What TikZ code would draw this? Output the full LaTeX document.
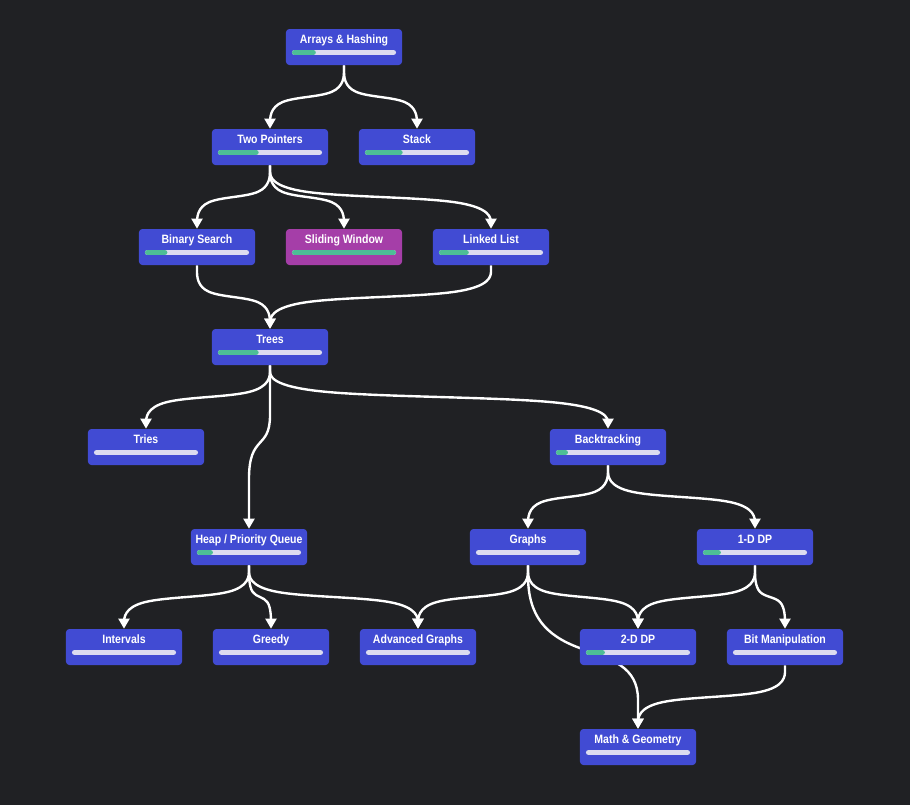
\documentclass[tikz,border=0pt]{standalone}
\usepackage{fontspec}
\setmainfont{Liberation Sans}[FakeStretch=0.87]
\usetikzlibrary{arrows.meta,calc}
\definecolor{bgdark}{HTML}{202124}
\definecolor{nodeblue}{HTML}{414BD3}
\definecolor{nodemag}{HTML}{A53EA8}
\definecolor{trackcol}{HTML}{DCDCF0}
\definecolor{progcol}{HTML}{4DBE96}
\pgfdeclarelayer{bg}
\pgfdeclarelayer{edges}
\pgfsetlayers{bg,edges,main}
\tikzset{
  topicbox/.style={rectangle, rounded corners=2.4pt, minimum width=2.9cm, minimum height=0.9cm, inner sep=0pt, draw=none},
  topiclabel/.style={text=white, inner sep=0pt, font=\fontsize{8.6}{10}\selectfont\bfseries},
  bartrack/.style={draw=trackcol, line width=3.6pt, line cap=round},
  barfill/.style={draw=progcol, line width=3.6pt, line cap=round},
  edge/.style={draw=white, line width=1.7pt, -{Triangle[length=7.2pt,width=7.8pt]}},
}
\newcommand\topic[6]{%
  \node[topicbox, fill=#6] (#1) at (#2, #3+18) {};
  \node[topiclabel, anchor=base] (#1-label) at (#2, #3+14.3) {#4};
  \draw[bartrack] (#2-49.5, #3+23.5) -- (#2+49.5, #3+23.5);
  \ifdim #5pt>0pt \draw[barfill] (#2-49.5, #3+23.5) -- ({#2-49.5+99*#5}, #3+23.5);\fi
}
\newcommand\link[2]{%
  \path (#1.south) coordinate (p0) ++(0,32) coordinate (p1);
  \path (#2.north) coordinate (p3) ++(0,-32) coordinate (p2);
  \draw[edge] (p0) -- ($(p0)!0.1666667!(p1)$)
    .. controls ($(p0)!0.3333333!(p1)$) and ($(p0)!0.6666667!(p1)$) .. ($0.1666667*(p0)+0.6666667*(p1)+0.1666667*(p2)$)
    .. controls ($(p1)!0.3333333!(p2)$) and ($(p1)!0.6666667!(p2)$) .. ($0.1666667*(p1)+0.6666667*(p2)+0.1666667*(p3)$)
    .. controls ($(p2)!0.3333333!(p3)$) and ($(p2)!0.6666667!(p3)$) .. ($(p2)!0.8333333!(p3)$) -- (p3);
}
\begin{document}
\begin{tikzpicture}[x=0.025cm, y=-0.025cm]
\begin{pgfonlayer}{bg}
  \fill[bgdark] (0,0) rectangle (910,805);
\end{pgfonlayer}
\useasboundingbox (0,0) rectangle (910,805);

\topic{arr}{344}{29}{Arrays \& Hashing}{0.19}{nodeblue}
\topic{twop}{270}{129}{Two Pointers}{0.36}{nodeblue}
\topic{stack}{417}{129}{Stack}{0.33}{nodeblue}
\topic{bins}{197}{229}{Binary Search}{0.175}{nodeblue}
\topic{slid}{344}{229}{Sliding Window}{1}{nodemag}
\topic{ll}{491}{229}{Linked List}{0.25}{nodeblue}
\topic{trees}{270}{329}{Trees}{0.36}{nodeblue}
\topic{tries}{146}{429}{Tries}{0}{nodeblue}
\topic{back}{608}{429}{Backtracking}{0.07}{nodeblue}
\topic{heap}{249}{529}{Heap / Priority Queue}{0.11}{nodeblue}
\topic{graphs}{528}{529}{Graphs}{0}{nodeblue}
\topic{dpa}{755}{529}{1-D DP}{0.13}{nodeblue}
\topic{intv}{124}{629}{Intervals}{0}{nodeblue}
\topic{greedy}{271}{629}{Greedy}{0}{nodeblue}
\topic{advg}{418}{629}{Advanced Graphs}{0}{nodeblue}
\topic{dpb}{638}{629}{2-D DP}{0.14}{nodeblue}
\topic{bit}{785}{629}{Bit Manipulation}{0}{nodeblue}
\topic{math}{638}{729}{Math \& Geometry}{0}{nodeblue}

\begin{pgfonlayer}{edges}
  \link{arr}{twop}
  \link{arr}{stack}
  \link{twop}{bins}
  \link{twop}{slid}
  \link{twop}{ll}
  \link{bins}{trees}
  \link{ll}{trees}
  \link{trees}{tries}
  \link{trees}{back}
  \draw[edge] (trees.south) -- ($(trees.south)+(0,50)$)
    .. controls ($(trees.south)+(0,85)$) and ($(heap.north)+(0,-95)$) .. ($(heap.north)+(0,-50)$)
    -- (heap.north);
  \link{back}{graphs}
  \link{back}{dpa}
  \link{heap}{intv}
  \link{heap}{greedy}
  \link{heap}{advg}
  \link{graphs}{advg}
  \link{graphs}{dpb}
  \link{dpa}{dpb}
  \link{dpa}{bit}
  \link{bit}{math}
  \draw[edge] (graphs.south) -- ($(graphs.south)+(0,10)$)
    .. controls ($(graphs.south)+(0,50)$) and ($(graphs.south)+(17,70)$) .. ($(dpb.west)+(0,1)$)
    .. controls ($(dpb.west)+(32,12)$) and ($(math.north)+(0,-62)$) .. ($(math.north)+(0,-29)$)
    -- (math.north);
\end{pgfonlayer}
\end{tikzpicture}
\end{document}
